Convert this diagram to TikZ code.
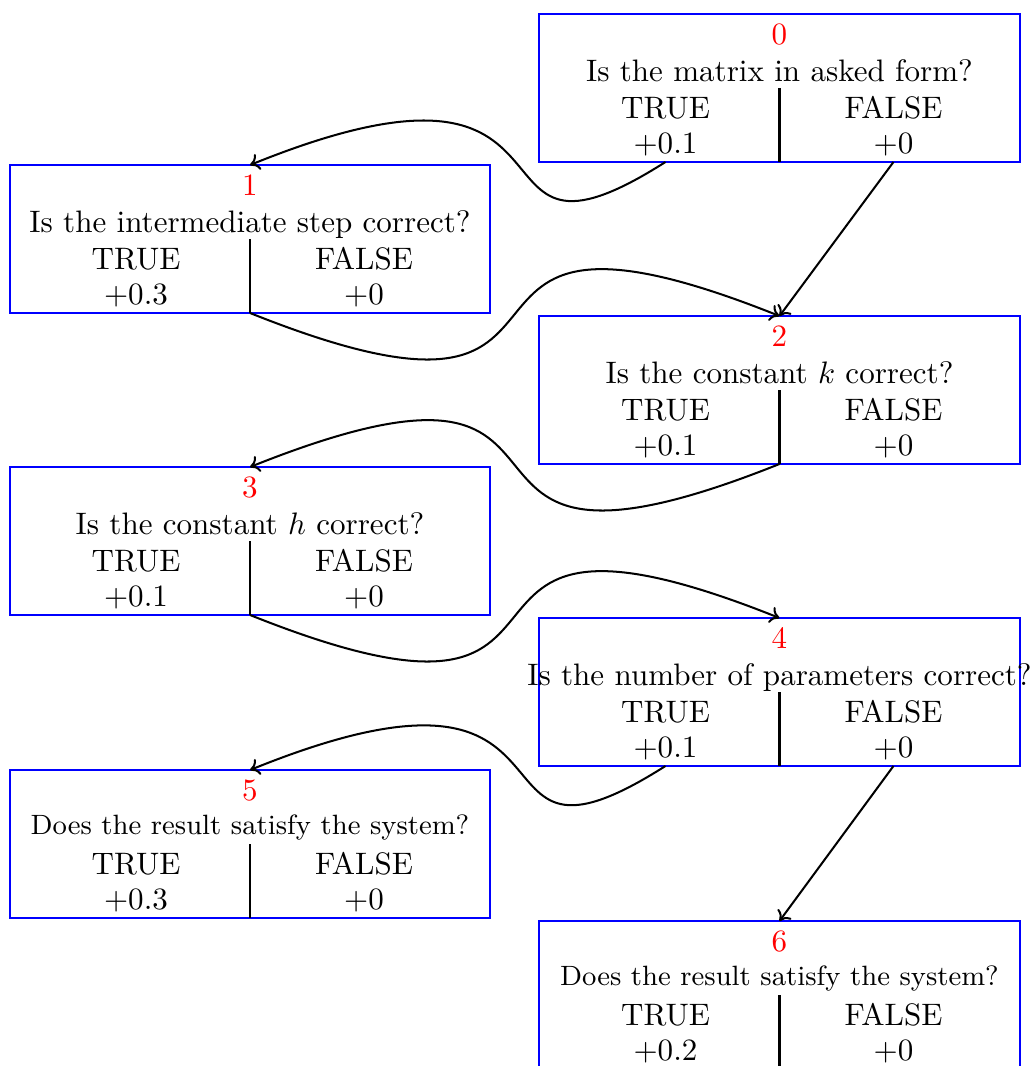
\documentclass[tikz,border=0pt]{standalone}
\usepackage{fontspec}
\usetikzlibrary{calc,arrows.meta}
\begin{document}
\begin{tikzpicture}[x=0.01132cm,y=-0.01132cm,
  >={Computer Modern Rightarrow[length=3pt,width=5.5pt]},
  box/.style={draw=blue,line width=0.65pt,minimum width=5.44cm,minimum height=1.675cm,inner sep=0pt,outer sep=0pt},
  lbl/.style={anchor=base,inner sep=0pt,outer sep=0pt},
  num/.style={lbl,text=red},
  conn/.style={->,line width=0.65pt,black},
  divider/.style={line width=0.65pt,black}]
\useasboundingbox (0,0) rectangle (1030,1066);
% #1 id, #2 centre x, #3 top y, #4 question, #5 true value, #6 false value, #7 question baseline offset
\newcommand\qbox[7]{%
  \node[box] (b#1) at (#2,#3+74) {};
  \node[num] (n#1) at (#2,#3+30) {#1};
  \node[lbl] (q#1) at (#2,#3+#7) {#4};
  \node[lbl] (tl#1) at (#2-114,#3+104) {TRUE};
  \node[lbl] (tv#1) at (#2-114,#3+139) {$+#5$};
  \node[lbl] (fl#1) at (#2+114,#3+104) {FALSE};
  \node[lbl] (fv#1) at (#2+114,#3+139) {$+#6$};
  \draw[divider] (b#1.center) -- (b#1.south);
}
\newcommand\smq[1]{{\fontsize{9pt}{11pt}\selectfont #1}}
\qbox{0}{779.5}{14}{Is the matrix in asked form?}{0.1}{0}{67}
\qbox{1}{250}{165}{Is the intermediate step correct?}{0.3}{0}{67}
\qbox{2}{779.5}{316}{Is the constant $k$ correct?}{0.1}{0}{67}
\qbox{3}{250}{467}{Is the constant $h$ correct?}{0.1}{0}{67}
\qbox{4}{779.5}{618}{Is the number of parameters correct?}{0.1}{0}{67}
\qbox{5}{250}{770}{\smq{Does the result satisfy the system?}}{0.3}{0}{64}
\qbox{6}{779.5}{921}{\smq{Does the result satisfy the system?}}{0.2}{0}{64}
\draw[conn] (b0.south -| tv0) .. controls +(-217,138) and +(365,-148) .. (b1.north);
\draw[conn] (b0.south -| fv0) -- (b2.north);
\draw[conn] (b1.south) .. controls +(400,160) and +(-400,-160) .. (b2.north);
\draw[conn] (b2.south) .. controls +(-400,160) and +(400,-160) .. (b3.north);
\draw[conn] (b3.south) .. controls +(400,160) and +(-400,-160) .. (b4.north);
\draw[conn] (b4.south -| tv4) .. controls +(-217,138) and +(365,-148) .. (b5.north);
\draw[conn] (b4.south -| fv4) -- (b6.north);
\end{tikzpicture}
\end{document}
